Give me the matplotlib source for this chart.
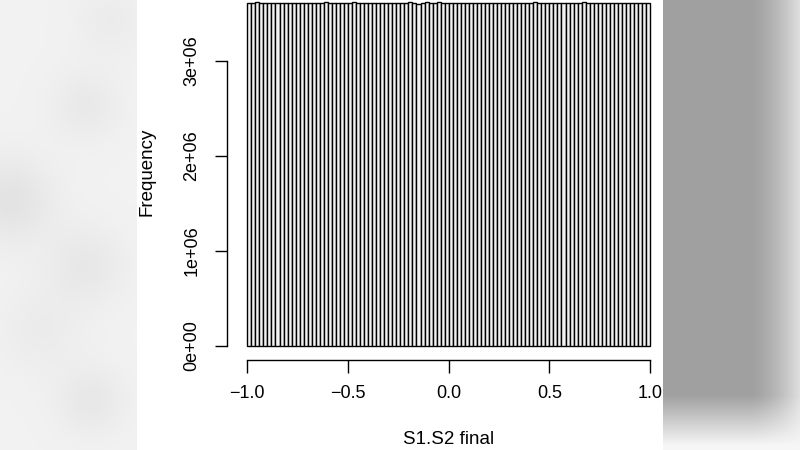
import numpy as np
import matplotlib
matplotlib.use("Agg")
import matplotlib.pyplot as plt

# ---- data ----
bin_edges_start = -1.0
bin_width = 0.02
counts_millions = [
    3.606, 3.612, 3.618, 3.615, 3.610, 3.613, 3.611, 3.609, 3.614, 3.612,
    3.610, 3.608, 3.611, 3.613, 3.615, 3.612, 3.610, 3.611, 3.614, 3.617,
    3.612, 3.608, 3.613, 3.611, 3.609, 3.614, 3.618, 3.607, 3.611, 3.612,
    3.609, 3.608, 3.610, 3.613, 3.611, 3.612, 3.614, 3.613, 3.610, 3.611,
    3.616, 3.611, 3.605, 3.612, 3.619, 3.615, 3.613, 3.617, 3.614, 3.612,
    3.610, 3.613, 3.611, 3.609, 3.612, 3.614, 3.611, 3.608, 3.610, 3.613,
    3.615, 3.612, 3.609, 3.611, 3.613, 3.610, 3.612, 3.614, 3.611, 3.609,
    3.612, 3.618, 3.613, 3.611, 3.610, 3.612, 3.609, 3.611, 3.613, 3.615,
    3.612, 3.610, 3.614, 3.619, 3.613, 3.610, 3.612, 3.611, 3.609, 3.612,
    3.610, 3.611, 3.613, 3.612, 3.609, 3.611, 3.610, 3.612, 3.614, 3.611,
]
x_ticks = [-1.0, -0.5, 0.0, 0.5, 1.0]
x_tick_labels = ["\u22121.0", "\u22120.5", "0.0", "0.5", "1.0"]
y_ticks = [0, 1e6, 2e6, 3e6]
y_tick_labels = ["0e+00", "1e+06", "2e+06", "3e+06"]
x_label = "S1.S2 final"
y_label = "Frequency"

counts = np.array(counts_millions) * 1e6
n_bins = len(counts)
edges = bin_edges_start + bin_width * np.arange(n_bins + 1)

plt.rcParams['font.family'] = ['Liberation Sans', 'DejaVu Sans']

W, H = 800, 450
fig = plt.figure(figsize=(8, 4.5), dpi=100)

# ---- background (blurred photo-like frame) ----
yy, xx = np.mgrid[0:H, 0:W].astype(float)
bg = np.ones((H, W))
left = xx < 137
base_left = 0.95 * np.ones((H, W))
for (cx, cy, s, d) in [(10, 200, 30, 0.06), (85, 105, 25, 0.035), (85, 265, 28, 0.04),
                       (90, 400, 25, 0.04), (40, 330, 30, 0.025), (110, 20, 25, 0.025)]:
    base_left -= d * np.exp(-((xx - cx) ** 2 + (yy - cy) ** 2) / (2 * s ** 2))
bg[left] = base_left[left]
right = xx >= 663
hfade = np.clip((xx - 750) / 50.0, 0, 1)
grey = 0.63 + (0.88 - 0.63) * hfade ** 1.5
vfade = np.clip((yy - 395) / 50.0, 0, 1)
grey = grey + (0.965 - grey) * vfade
bg[right] = grey[right]
bax = fig.add_axes([0, 0, 1, 1], zorder=-10)
bax.imshow(np.dstack([bg, bg, bg]), extent=(0, W, H, 0), aspect='auto', interpolation='bilinear')
bax.set_xlim(0, W)
bax.set_ylim(H, 0)
bax.axis('off')

# ---- main axes ----
px_per_unit = 201.4
x_at_m1 = 247.3
ax_left_px, ax_right_px = 227.0, 667.0
xlim = (-1 + (ax_left_px - x_at_m1) / px_per_unit, -1 + (ax_right_px - x_at_m1) / px_per_unit)
ax_bottom_px = 360.0
zero_px = 346.0
px_per_million = 95.0
ylim = (-(ax_bottom_px - zero_px) / px_per_million * 1e6, zero_px / px_per_million * 1e6)

ax = fig.add_axes([ax_left_px / W, 1 - ax_bottom_px / H, (ax_right_px - ax_left_px) / W, ax_bottom_px / H])
ax.patch.set_alpha(0)
ax.bar(edges[:-1], counts, width=bin_width, align='edge', color='#f2f2f2',
       edgecolor='black', linewidth=1.0)
ax.set_xlim(*xlim)
ax.set_ylim(*ylim)
for s in ['top', 'right']:
    ax.spines[s].set_visible(False)
ax.spines['left'].set_bounds(y_ticks[0], y_ticks[-1])
ax.spines['bottom'].set_bounds(x_ticks[0], x_ticks[-1])
for s in ['left', 'bottom']:
    ax.spines[s].set_linewidth(1.0)
ax.set_xticks(x_ticks)
ax.set_xticklabels(x_tick_labels, fontsize=13)
ax.set_yticks(y_ticks)
ax.set_yticklabels(y_tick_labels, fontsize=13, rotation=90, va='center')
ax.tick_params(axis='both', direction='out', length=9, width=1.0, color='black')
ax.tick_params(axis='x', pad=9)
ax.tick_params(axis='y', pad=10)

fig.text(147 / W, 1 - 172 / H, y_label, rotation=90, ha='center', va='center', fontsize=13.5)
fig.text(449 / W, 1 - 440 / H, x_label, ha='center', va='center', fontsize=13.5)

fig.savefig("out.png", dpi=100)
